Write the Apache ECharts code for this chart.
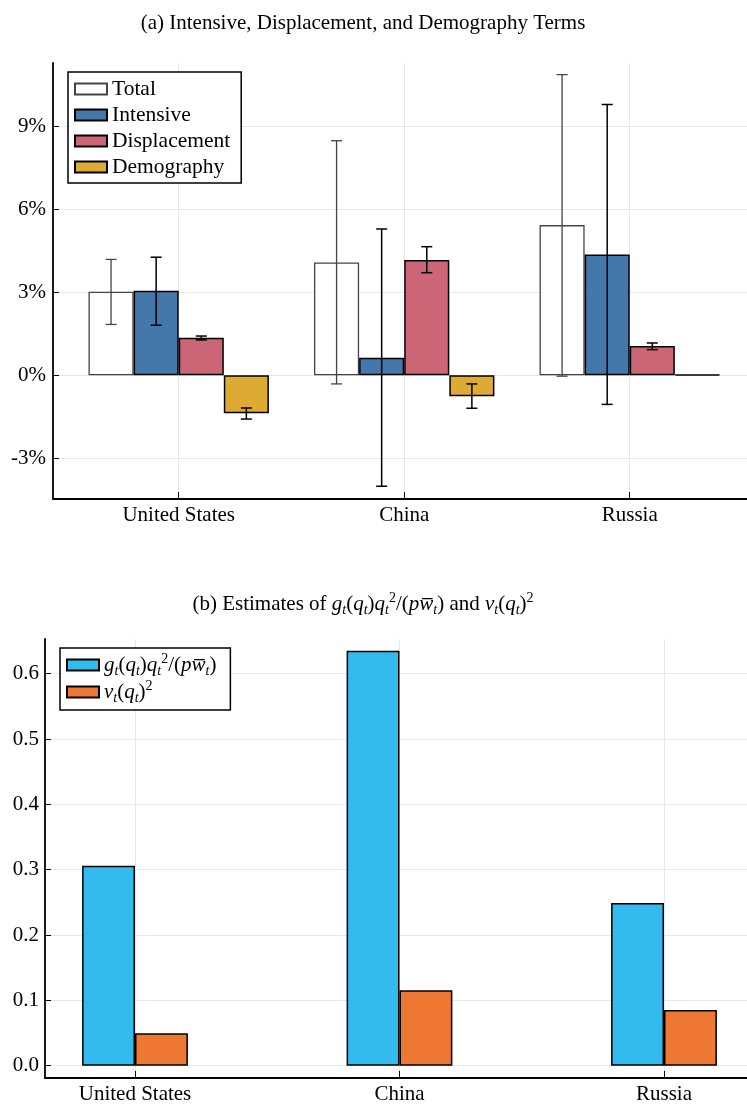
<!DOCTYPE html>
<html>
<head>
<meta charset="utf-8">
<script src="https://cdn.jsdelivr.net/npm/echarts@6/dist/echarts.min.js"></script>
<style>
  html, body { margin: 0; padding: 0; background: #fff; }
  #chart { width: 747px; height: 1106px; }
</style>
</head>
<body>
<div id="chart"></div>
<script>
// categories
const countries = ['United States', 'China', 'Russia'];
const countryPos = [1, 2, 3];

// panel (a): values in percent
const totalVals = [3.02, 4.08, 5.43];
const totalLow = [1.84, -0.31, -0.03];
const totalHigh = [4.19, 8.48, 10.87];
const intensiveVals = [3.06, 0.64, 4.37];
const intensiveLow = [1.81, -4.01, -1.05];
const intensiveHigh = [4.27, 5.29, 9.79];
const displacementVals = [1.36, 4.17, 1.06];
const displacementLow = [1.28, 3.71, 0.93];
const displacementHigh = [1.42, 4.65, 1.17];
const demographyVals = [-1.37, -0.76, 0.03];
const demographyLow = [-1.58, -1.19, 0.03];
const demographyHigh = [-1.18, -0.31, 0.03];
const pctTicks = [-3, 0, 3, 6, 9];

// panel (b)
const gVals = [0.306, 0.635, 0.249];
const nuVals = [0.0496, 0.1154, 0.0853];
const fracTicks = [0.0, 0.1, 0.2, 0.3, 0.4, 0.5, 0.6];

const FONT = '"Liberation Serif", "DejaVu Serif", serif';

const chart = echarts.init(document.getElementById('chart'));

function pairs(vals) {
  return countryPos.map((x, i) => [x, vals[i]]);
}

function errSeries(name, idx, lo, hi, color, width) {
  return {
    name: name,
    type: 'custom',
    xAxisIndex: 0,
    yAxisIndex: 0,
    z: 5,
    silent: true,
    data: countryPos.map((x, i) => [x, lo[i], hi[i]]),
    encode: { x: 0, y: [1, 2] },
    renderItem: function (params, api) {
      const x = api.value(0);
      const unit = api.size([1, 0])[0];
      const cx = api.coord([x, 0])[0] + (idx - 1.5) * 0.2 * unit;
      const y1 = api.coord([x, api.value(1)])[1];
      const y2 = api.coord([x, api.value(2)])[1];
      const cap = 5.5;
      const st = { stroke: color, lineWidth: width };
      if (Math.abs(y2 - y1) < 0.5) return null;
      return {
        type: 'group',
        children: [
          { type: 'line', shape: { x1: cx, y1: y1, x2: cx, y2: y2 }, style: st },
          { type: 'line', shape: { x1: cx - cap, y1: y1, x2: cx + cap, y2: y1 }, style: st },
          { type: 'line', shape: { x1: cx - cap, y1: y2, x2: cx + cap, y2: y2 }, style: st }
        ]
      };
    }
  };
}

function barSeries(name, vals, color, border, bw, xi, barW) {
  return {
    name: name,
    type: 'bar',
    xAxisIndex: xi,
    yAxisIndex: xi,
    barWidth: barW,
    barGap: '0%',
    data: pairs(vals),
    itemStyle: { color: color, borderColor: border, borderWidth: bw },
    emphasis: { disabled: true }
  };
}

const rich = {
  n: { fontFamily: FONT, fontSize: 21, lineHeight: 26, color: '#000' },
  i: { fontFamily: FONT, fontSize: 21, lineHeight: 26, fontStyle: 'italic', color: '#000' },
  sb: { fontFamily: FONT, fontSize: 14, lineHeight: 14, fontStyle: 'italic', verticalAlign: 'bottom', color: '#000' },
  sp: { fontFamily: FONT, fontSize: 14, lineHeight: 14, verticalAlign: 'top', color: '#000' }
};
const gLabel = '{i|g}{sb|t}{n|(}{i|q}{sb|t}{n|)}{i|q}{sb|t}{sp|2}{n|/(}{i|p}{i|w\u0305}{sb|t}{n|)}';
const nuLabel = '{i|\u03bd}{sb|t}{n|(}{i|q}{sb|t}{n|)}{sp|2}';
const legendNames = { g: gLabel, nu: nuLabel };

const axisLineStyle = { color: '#000', width: 1.8 };
const gridLine = { show: true, lineStyle: { color: '#e8e8e8', width: 1 } };
const labelStyle = { fontFamily: FONT, fontSize: 21, color: '#000' };

const option = {
  animation: false,
  backgroundColor: '#fff',
  title: [
    {
      text: '(a) Intensive, Displacement, and Demography Terms',
      left: 358, top: 8, textAlign: 'center',
      textStyle: { fontFamily: FONT, fontSize: 21, fontWeight: 'normal', color: '#000' }
    },
    {
      text: '{n|(b) Estimates of }' + gLabel + '{n| and }' + nuLabel,
      left: 358, top: 586, textAlign: 'center',
      textStyle: { fontWeight: 'normal', rich: rich }
    }
  ],
  legend: [
    {
      data: ['Total', 'Intensive', 'Displacement', 'Demography'],
      orient: 'vertical', left: 68, top: 72, icon: 'rect',
      itemWidth: 32, itemHeight: 11, itemGap: 4,
      padding: [6, 11, 5, 6],
      borderColor: '#000', borderWidth: 1.5, backgroundColor: '#fff',
      textStyle: { fontFamily: FONT, fontSize: 21.5, color: '#000' },
      selectedMode: false
    },
    {
      data: ['g', 'nu'],
      orient: 'vertical', left: 60, top: 648, icon: 'rect',
      itemWidth: 32, itemHeight: 11, itemGap: 1,
      padding: [4, 14, 5, 6],
      borderColor: '#000', borderWidth: 1.5, backgroundColor: '#fff',
      formatter: name => legendNames[name],
      textStyle: { rich: rich },
      selectedMode: false
    }
  ],
  grid: [
    { left: 53, right: 0, top: 63, bottom: 607 },
    { left: 45, right: 0, top: 639, bottom: 28 }
  ],
  xAxis: [
    {
      type: 'value', gridIndex: 0, min: 0.4426, max: 3.52,
      axisLine: { show: true, onZero: false, lineStyle: axisLineStyle },
      axisTick: { show: true, inside: true, length: 7, customValues: countryPos, lineStyle: { color: '#000' } },
      axisLabel: Object.assign({ customValues: countryPos, margin: 6, formatter: v => countries[Math.round(v) - 1] }, labelStyle),
      splitLine: gridLine
    },
    {
      type: 'value', gridIndex: 1, min: 0.6597, max: 3.3138,
      axisLine: { show: true, onZero: false, lineStyle: axisLineStyle },
      axisTick: { show: true, inside: true, length: 7, customValues: countryPos, lineStyle: { color: '#000' } },
      axisLabel: Object.assign({ customValues: countryPos, margin: 6, formatter: v => countries[Math.round(v) - 1] }, labelStyle),
      splitLine: gridLine
    }
  ],
  yAxis: [
    {
      type: 'value', gridIndex: 0, min: -4.47, max: 11.29,
      axisLine: { show: true, onZero: false, lineStyle: axisLineStyle },
      axisTick: { show: true, inside: true, length: 6, customValues: pctTicks, lineStyle: { color: '#000' } },
      axisLabel: Object.assign({ customValues: pctTicks, margin: 7, formatter: v => v + '%' }, labelStyle),
      splitLine: gridLine
    },
    {
      type: 'value', gridIndex: 1, min: -0.0188, max: 0.6531,
      axisLine: { show: true, onZero: false, lineStyle: axisLineStyle },
      axisTick: { show: true, inside: true, length: 6, customValues: fracTicks, lineStyle: { color: '#000' } },
      axisLabel: Object.assign({ customValues: fracTicks, margin: 6, formatter: v => v.toFixed(1) }, labelStyle),
      splitLine: gridLine
    }
  ],
  series: [
    barSeries('Total', totalVals, '#ffffff', '#444444', 1.3, 0, '20%'),
    barSeries('Intensive', intensiveVals, '#4477AA', '#000', 1.5, 0, '20%'),
    barSeries('Displacement', displacementVals, '#CC6677', '#000', 1.5, 0, '20%'),
    barSeries('Demography', demographyVals, '#DDAA33', '#000', 1.5, 0, '20%'),
    errSeries('Total err', 0, totalLow, totalHigh, '#444444', 1.3),
    errSeries('Intensive err', 1, intensiveLow, intensiveHigh, '#000', 1.5),
    errSeries('Displacement err', 2, displacementLow, displacementHigh, '#000', 1.5),
    errSeries('Demography err', 3, demographyLow, demographyHigh, '#000', 1.5),
    barSeries('g', gVals, '#33BBEE', '#000', 1.5, 1, '20%'),
    barSeries('nu', nuVals, '#EE7733', '#000', 1.5, 1, '20%')
  ]
};

chart.setOption(option);
window.addEventListener('resize', function () {
  chart.resize();
});
</script>
</body>
</html>
